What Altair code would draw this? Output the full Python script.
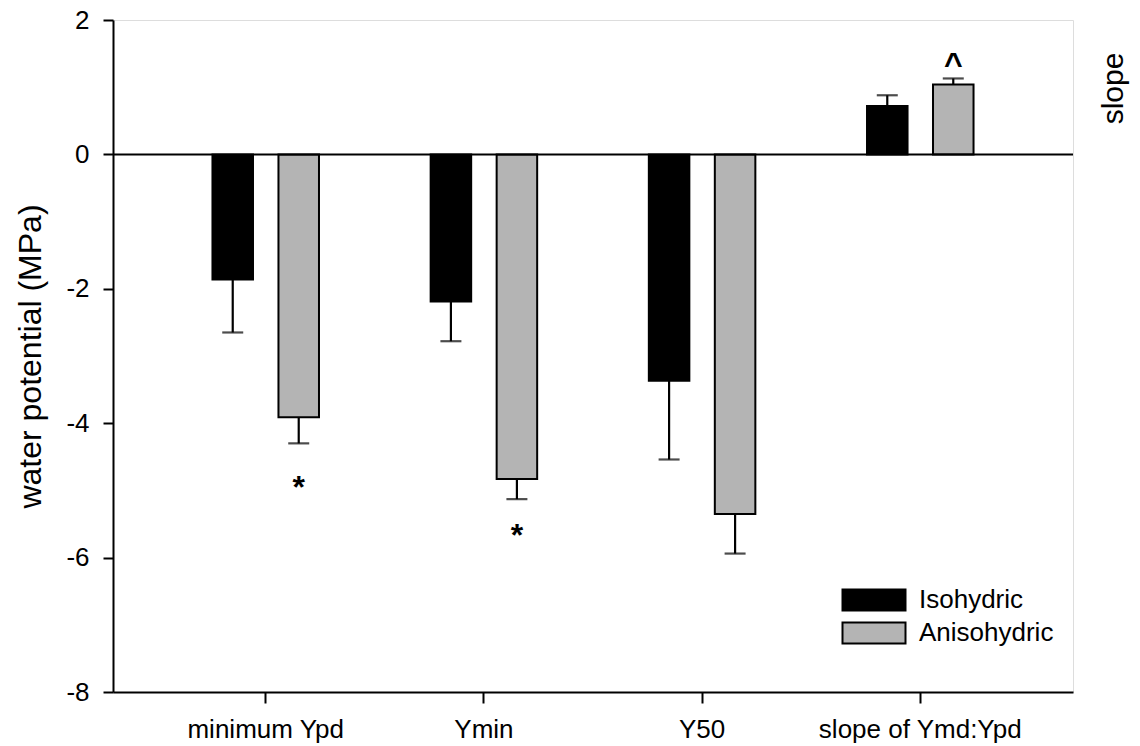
import altair as alt
import pandas as pd

# Category labels and groups
categories = ["minimum Ypd", "Ymin", "Y50", "slope of Ymd:Ypd"]
groups = ["Isohydric", "Anisohydric"]

# Means and standard errors (MPa, last category is a slope)
iso_mean = [-1.86, -2.19, -3.37, 0.72]
iso_se = [0.79, 0.59, 1.17, 0.16]
aniso_mean = [-3.91, -4.83, -5.35, 1.04]
aniso_se = [0.39, 0.30, 0.59, 0.09]

# Significance markers
sig_category = ["minimum Ypd", "Ymin", "slope of Ymd:Ypd"]
sig_group = ["Anisohydric", "Anisohydric", "Anisohydric"]
sig_symbol = ["*", "*", "^"]
sig_y = [-4.83, -5.54, 1.46]

rows = []
for g, means, ses in [("Isohydric", iso_mean, iso_se), ("Anisohydric", aniso_mean, aniso_se)]:
    for c, m, s in zip(categories, means, ses):
        sign = 1 if m >= 0 else -1
        rows.append({"category": c, "group": g, "mean": m, "end": m + sign * s})
df = pd.DataFrame(rows)
sig_df = pd.DataFrame({"category": sig_category, "group": sig_group,
                       "symbol": sig_symbol, "y": sig_y})

FONT = "Liberation Sans"
ydom = [-8, 2]

x_enc = alt.X("category:N", sort=categories,
              scale=alt.Scale(paddingInner=0, paddingOuter=0.2),
              axis=alt.Axis(title=None, labelAngle=0, labelFontSize=26,
                            labelPadding=13, labelLimit=0, tickSize=11,
                            tickWidth=2, tickColor="black",
                            domainColor="black", domainWidth=2,
                            labelColor="black", labelFont=FONT))
xo_enc = alt.XOffset("group:N", sort=groups,
                     scale=alt.Scale(paddingInner=0.386, paddingOuter=0.846))

bars = alt.Chart(df).mark_bar(stroke="black", strokeWidth=2).encode(
    x=x_enc,
    xOffset=xo_enc,
    y=alt.Y("mean:Q", scale=alt.Scale(domain=ydom, nice=False),
            axis=alt.Axis(values=[-8, -6, -4, -2, 0, 2], grid=False,
                          labelExpr="'' + datum.value",
                          title="water potential (MPa)", titleFontSize=32,
                          titleFontWeight="normal", titleFont=FONT,
                          titleColor="black", titlePadding=18,
                          labelFontSize=26, labelFont=FONT, labelColor="black",
                          labelPadding=14, tickSize=10, tickWidth=2,
                          tickColor="black", domainColor="black",
                          domainWidth=2)),
    fill=alt.Fill("group:N", sort=groups,
                  scale=alt.Scale(domain=groups, range=["#000000", "#b4b4b4"]),
                  legend=alt.Legend(title=None, orient="none",
                                    legendX=748, legendY=567,
                                    symbolType="M-3,-1H3V1H-3Z",
                                    symbolSize=441, symbolStrokeColor="black",
                                    symbolStrokeWidth=2, labelFontSize=26,
                                    labelFont=FONT, labelColor="black",
                                    labelOffset=32, rowPadding=3, padding=0)),
)

err = alt.Chart(df).mark_rule(color="black", strokeWidth=2.2).encode(
    x=x_enc, xOffset=xo_enc,
    y=alt.Y("mean:Q", scale=alt.Scale(domain=ydom, nice=False)),
    y2="end:Q",
)

caps = alt.Chart(df).mark_tick(color="black", thickness=2.2, size=21,
                               orient="horizontal").encode(
    x=x_enc, xOffset=xo_enc,
    y=alt.Y("end:Q", scale=alt.Scale(domain=ydom, nice=False)),
)

sig = alt.Chart(sig_df).mark_text(fontSize=32, fontWeight="bold", font=FONT,
                                  color="black", dy=9).encode(
    x=x_enc, xOffset=xo_enc,
    y=alt.Y("y:Q", scale=alt.Scale(domain=ydom, nice=False)),
    text="symbol:N",
)

main = alt.layer(bars, err, caps, sig)

# zero line, carrying the right-hand "slope" axis title
zero = alt.Chart(pd.DataFrame({"zero": [0]})).mark_rule(
    color="black", strokeWidth=2).encode(
    y=alt.Y("zero:Q", scale=alt.Scale(domain=ydom, nice=False),
            axis=alt.Axis(orient="right", ticks=False, labels=False,
                          domain=False, grid=False, title="slope",
                          titleAngle=270, titleFontSize=30,
                          titleFontWeight="normal", titleFont=FONT,
                          titleColor="black", titleX=40, titleY=68,
                          titleAlign="center", titleBaseline="middle")),
)

chart = alt.layer(main, zero).resolve_scale(y="independent").properties(
    width=960, height=672,
    autosize=alt.AutoSizeParams(type="none"),
    padding={"left": 113, "top": 20, "right": 67, "bottom": 54},
).configure_view(stroke="black", strokeWidth=2).configure(font=FONT, background="white")

chart.save("out.html", embed_options={"renderer": "svg", "actions": False})
